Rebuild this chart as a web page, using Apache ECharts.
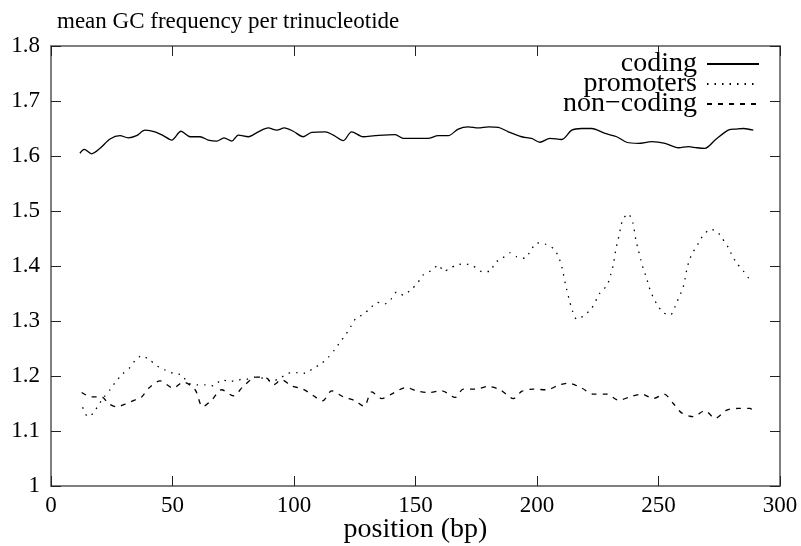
<!DOCTYPE html>
<html>
<head>
<meta charset="utf-8">
<script src="https://cdn.jsdelivr.net/npm/echarts@6/dist/echarts.min.js"></script>
<style>
  html, body { margin: 0; padding: 0; background: #fff; }
  #chart { width: 801px; height: 546px; }
</style>
</head>
<body>
<div id="chart"></div>
<script>
// values
const codingX = [11.9, 13.7, 16.7, 20.2, 24.3, 28.4, 31.8, 35.2, 38.7, 42.8, 46.2, 49.7, 53.5, 57.2, 61.3, 64.7, 68.2, 71.2, 74.4, 77.1, 81.2, 85.3, 89.4, 92.9, 96, 99.7, 103.8, 107.3, 112.8, 116.2, 120.3, 123.7, 128.5, 133.3, 141.6, 145, 151.2, 155, 159.4, 163.5, 167.6, 171.7, 175.8, 180, 184.1, 188.2, 193.7, 197.8, 201.2, 205.3, 210.2, 214.3, 218.4, 222.5, 228, 232.8, 236.9, 241.7, 247.2, 252.7, 258.2, 262.3, 265.8, 269.1, 273.3, 278.7, 282.2, 285, 289]
const codingY = [1.605, 1.612, 1.604, 1.614, 1.631, 1.637, 1.633, 1.637, 1.647, 1.644, 1.637, 1.629, 1.645, 1.635, 1.635, 1.629, 1.627, 1.633, 1.627, 1.638, 1.635, 1.644, 1.651, 1.647, 1.651, 1.645, 1.635, 1.643, 1.644, 1.638, 1.628, 1.644, 1.635, 1.637, 1.639, 1.632, 1.632, 1.632, 1.637, 1.637, 1.649, 1.653, 1.651, 1.653, 1.652, 1.644, 1.635, 1.632, 1.625, 1.632, 1.630, 1.647, 1.650, 1.650, 1.641, 1.635, 1.625, 1.623, 1.626, 1.623, 1.615, 1.617, 1.615, 1.614, 1.629, 1.647, 1.649, 1.650, 1.647]

const promotersX = [13, 15.1, 17.4, 19.5, 21.9, 24.3, 26.7, 29.5, 32.2, 34.6, 37.3, 40.7, 43.7, 46.9, 50.1, 53.8, 56.5, 60, 63.4, 66.8, 70.2, 73.7, 77.1, 80.5, 84, 87.4, 90.8, 94.2, 97.7, 101.1, 104.5, 108, 111.4, 114.1, 116.6, 118.9, 121.4, 123.5, 125.5, 128.5, 131.3, 134.3, 137.4, 139.8, 142.3, 145, 148.4, 151, 153.2, 156.7, 159.4, 161.7, 164.2, 166.9, 170.4, 173.8, 177.2, 180.7, 182.7, 185.7, 188.9, 191.6, 195.1, 197.4, 199.9, 203.3, 206.7, 208.8, 210.4, 211.8, 213.6, 214.7, 216.3, 219.1, 222.5, 225.9, 228.9, 230.3, 231.4, 232.5, 233.5, 234.4, 235.3, 237.6, 239.4, 240.7, 241.7, 242.7, 243.8, 245.1, 246.2, 247.6, 249.3, 252, 255, 256.8, 258.2, 260, 260.9, 261.6, 262.7, 264.3, 266.4, 268.4, 271.5, 274.2, 276.4, 278.7, 280.4, 282.4, 284.9, 287.4]
const promotersY = [1.143, 1.126, 1.132, 1.147, 1.162, 1.175, 1.190, 1.204, 1.214, 1.228, 1.237, 1.229, 1.218, 1.211, 1.205, 1.202, 1.187, 1.184, 1.184, 1.182, 1.193, 1.190, 1.193, 1.194, 1.198, 1.196, 1.190, 1.196, 1.205, 1.206, 1.205, 1.214, 1.223, 1.234, 1.247, 1.261, 1.276, 1.291, 1.305, 1.312, 1.323, 1.334, 1.331, 1.339, 1.353, 1.347, 1.358, 1.370, 1.384, 1.392, 1.402, 1.390, 1.396, 1.402, 1.404, 1.400, 1.390, 1.390, 1.406, 1.414, 1.424, 1.417, 1.414, 1.428, 1.442, 1.440, 1.432, 1.418, 1.395, 1.365, 1.333, 1.317, 1.303, 1.309, 1.323, 1.351, 1.365, 1.384, 1.402, 1.432, 1.450, 1.469, 1.485, 1.495, 1.479, 1.447, 1.429, 1.411, 1.394, 1.378, 1.361, 1.345, 1.331, 1.315, 1.311, 1.326, 1.341, 1.359, 1.376, 1.393, 1.411, 1.426, 1.441, 1.456, 1.467, 1.462, 1.449, 1.434, 1.418, 1.404, 1.391, 1.376]

const noncodingX = [12.6, 16.7, 20.9, 23.6, 27, 30.5, 35.3, 37.3, 40.5, 44.9, 50.3, 54.4, 59.3, 62.4, 66.1, 70.2, 75, 79.1, 84.6, 88.8, 91.5, 94.9, 99, 103.8, 108, 111.8, 115.5, 120.3, 125.1, 128.8, 132, 136.1, 140.9, 146, 150.5, 155.3, 160.8, 166.3, 169.7, 174.5, 180, 184.8, 190.3, 193.7, 198.5, 204, 209.2, 212.9, 218.4, 223.2, 228.7, 233.5, 238.3, 243.1, 247.9, 252.3, 256.1, 259.5, 264.3, 269.1, 273.3, 278.1, 282.8, 287.7, 289]
const noncodingY = [1.170, 1.162, 1.162, 1.150, 1.144, 1.149, 1.158, 1.162, 1.179, 1.191, 1.178, 1.189, 1.175, 1.144, 1.156, 1.175, 1.164, 1.181, 1.198, 1.196, 1.184, 1.193, 1.182, 1.176, 1.164, 1.155, 1.173, 1.162, 1.155, 1.145, 1.171, 1.159, 1.169, 1.179, 1.173, 1.170, 1.173, 1.161, 1.176, 1.176, 1.181, 1.175, 1.159, 1.172, 1.176, 1.175, 1.184, 1.187, 1.178, 1.167, 1.167, 1.156, 1.162, 1.167, 1.159, 1.167, 1.150, 1.133, 1.126, 1.137, 1.123, 1.138, 1.141, 1.141, 1.135]

const seriesNames = ['coding', 'promoters', 'non\u2212coding']
const xTicks = { min: 0, max: 300, interval: 50 }
const yTicks = { min: 1, max: 1.8, interval: 0.1 }

const font = 'Liberation Serif'

function pairs (xs, ys) {
  return xs.map((x, i) => [x, ys[i]])
}

const chart = echarts.init(document.getElementById('chart'), null, { renderer: 'canvas' })

const tickStyle = { show: true, inside: true, length: 10, lineStyle: { color: '#222', width: 1 } }
const borderLine = { show: true, onZero: false, lineStyle: { color: '#555', width: 1.5 } }

chart.setOption({
  backgroundColor: '#fff',
  animation: false,
  title: {
    text: 'mean GC frequency per trinucleotide',
    left: 52,
    top: 5,
    textStyle: { fontFamily: font, fontSize: 23, fontWeight: 'normal', color: '#000' }
  },
  legend: {
    orient: 'vertical',
    align: 'right',
    right: 41,
    top: 50,
    padding: 0,
    itemWidth: 52,
    itemHeight: 20,
    itemGap: -8,
    itemStyle: { opacity: 0 },
    textStyle: { fontFamily: font, fontSize: 28, color: '#000', padding: [0, 5, 0, 0] },
    data: seriesNames
  },
  grid: { left: 51, right: 21, top: 46, bottom: 60, containLabel: false, outerBoundsMode: 'none' },
  xAxis: [{
    type: 'value',
    position: 'bottom',
    min: xTicks.min,
    max: xTicks.max,
    interval: xTicks.interval,
    name: 'position (bp)',
    nameLocation: 'middle',
    nameGap: 30,
    nameMoveOverlap: false,
    nameTextStyle: { fontFamily: font, fontSize: 28, color: '#000' },
    axisLine: borderLine,
    axisTick: tickStyle,
    axisLabel: { fontFamily: font, fontSize: 23, color: '#000', margin: 8 },
    splitLine: { show: false }
  }, {
    type: 'value',
    position: 'top',
    min: xTicks.min,
    max: xTicks.max,
    interval: xTicks.interval,
    axisLine: borderLine,
    axisTick: tickStyle,
    axisLabel: { show: false },
    splitLine: { show: false }
  }],
  yAxis: [{
    type: 'value',
    position: 'left',
    min: yTicks.min,
    max: yTicks.max,
    interval: yTicks.interval,
    axisLine: borderLine,
    axisTick: tickStyle,
    axisLabel: {
      fontFamily: font,
      fontSize: 23,
      color: '#000',
      margin: 11,
      formatter: v => String(Math.round(v * 10) / 10)
    },
    splitLine: { show: false }
  }, {
    type: 'value',
    position: 'right',
    min: yTicks.min,
    max: yTicks.max,
    interval: yTicks.interval,
    axisLine: borderLine,
    axisTick: tickStyle,
    axisLabel: { show: false },
    splitLine: { show: false }
  }],
  series: [{
    name: seriesNames[0],
    type: 'line',
    symbol: 'none',
    smooth: 0.3,
    lineStyle: { color: '#000', width: 1.3, type: 'solid' },
    itemStyle: { color: '#000' },
    data: pairs(codingX, codingY)
  }, {
    name: seriesNames[1],
    type: 'line',
    symbol: 'none',
    smooth: 0.2,
    lineStyle: { color: '#000', width: 1.3, type: [1.5, 6] },
    itemStyle: { color: '#000' },
    data: pairs(promotersX, promotersY)
  }, {
    name: seriesNames[2],
    type: 'line',
    symbol: 'none',
    smooth: 0.3,
    lineStyle: { color: '#000', width: 1.3, type: [5, 6] },
    itemStyle: { color: '#000' },
    data: pairs(noncodingX, noncodingY)
  }]
})
</script>
</body>
</html>
